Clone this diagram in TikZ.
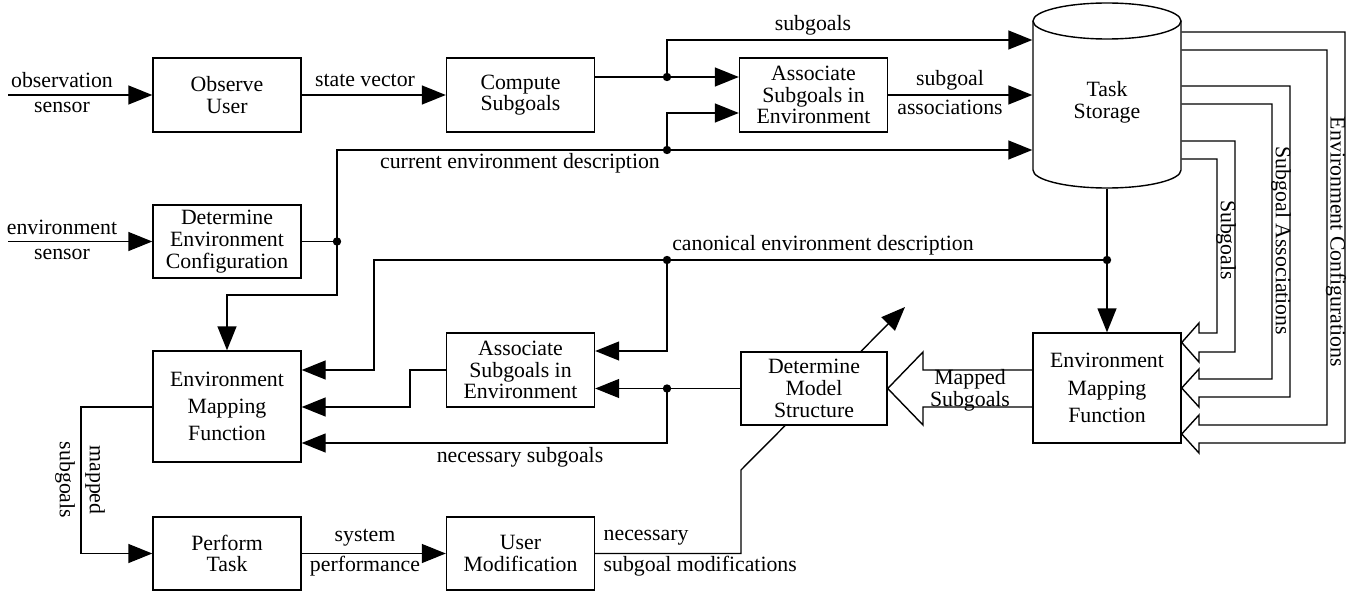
\documentclass[tikz,border=0pt]{standalone}
\usepackage{fontspec}
\setmainfont{Liberation Serif}
\usetikzlibrary{arrows.meta}
\begin{document}
\begin{tikzpicture}[x=1pt, y=-1pt, line width=1.4pt,
  font=\fontsize{21.8}{21.7}\selectfont,
  box/.style={draw, align=center, inner sep=0pt, minimum width=148pt, minimum height=74pt},
  tall/.style={box, minimum height=#1, font=\fontsize{21.8}{27.3}\selectfont},
  arr/.style={-{Triangle[length=24pt,width=19pt]}},
  lbl/.style={inner sep=0pt},
  vlbl/.style={inner sep=0pt, rotate=-90}]
\useasboundingbox (0,0) rectangle (1353,594);

% ---- processing blocks ----
\node[box] (obs) at (227,95) {Observe\\User};
\node[box] (comp) at (520.5,95) {Compute\\Subgoals};
\node[box] (assoc1) at (813.5,95) {Associate\\Subgoals in\\Environment};
\node[box, minimum height=73pt] (detenv) at (227,241.5) {Determine\\Environment\\Configuration};
\node[tall=111pt] (emf1) at (227,406.5) {Environment\\Mapping\\Function};
\node[box] (assoc2) at (520.5,370) {Associate\\Subgoals in\\Environment};
\node[box, minimum width=146pt, minimum height=73pt] (dms) at (814,388.5) {Determine\\Model\\Structure};
\node[tall=110pt] (emf2) at (1107,388) {Environment\\Mapping\\Function};
\node[box, minimum height=73pt] (perf) at (227,553.5) {Perform\\Task};
\node[box, minimum height=73pt] (umod) at (520.5,553.5) {User\\Modification};

% ---- task storage cylinder ----
\node[minimum width=148pt, minimum height=171pt, inner sep=0pt, align=center] (store) at (1107,102.5) {Task\\Storage};
\draw (1107,21) ellipse [x radius=74pt, y radius=18pt];
\draw (1033,21) -- (1033,170) arc [start angle=180, end angle=360, x radius=74pt, y radius=18pt] -- (1181,21);

% ---- junctions and free ends ----
\coordinate (obsIn) at (8,95);
\coordinate (envIn) at (8,241.5);
\coordinate (j1) at (667,77);
\coordinate (j2) at (337,241.5);
\coordinate (j3) at (667,150);
\coordinate (j4) at (1107,260);
\coordinate (j5) at (667,260);
\coordinate (j6) at (667,388.5);
\coordinate (dmsOut) at (905,307);

% ---- connectors ----
\draw[arr] (obsIn) -- (obs.west);
\draw[arr] (envIn) -- (detenv.west);
\draw[arr] (obs.east) -- (comp.west);
\draw (comp.east |- j1) -- (j1);
\draw[arr] (j1) -- (assoc1.west |- j1);
\draw[arr] (j1) |- (store.west |- 0,40);
\draw[arr] (assoc1.east) -- (store.west |- assoc1.east);
\draw (detenv.east) -- (j2);
\draw[arr] (j2) |- (store.west |- j3);
\draw[arr] (j3) |- (assoc1.west |- 0,113);
\draw[arr] (j2) -- (337,295) -| (emf1.north);
\draw[arr] (store.south) -- (emf2.north);
\draw[arr] (j4) -- (374,260) |- (emf1.east |- 0,370);
\draw[arr] (j5) |- (assoc2.east |- 0,351);
\draw (dms.west) -- (j6);
\draw[arr] (j6) -- (assoc2.east |- j6);
\draw[arr] (j6) |- (emf1.east |- 0,443);
\draw[arr] (assoc2.west) -- (410,370) |- (emf1.east |- 0,407);
\draw[arr] (emf1.west |- 0,407) -- (81,407) |- (perf.west);
\draw[arr] (perf.east) -- (umod.west);
\draw (umod.east) -- (741,553.5) -- (741,470) -- (dms.south -| 785,0);
\draw[arr] (dms.north -| 861,0) -- (dmsOut);

% hollow arrow: mapped subgoals
\draw (emf2.west |- 0,370) -- (923,370) -- (923,352) -- (dms.east) -- (923,425) -- (923,407) -- (emf2.west |- 0,407);

% hollow channels from the storage into the mapping function
\draw (store.east |- 0,141) -- (1235,141) -- (1235,352) -- (1199,352) -- (1199,362) -- (emf2.east |- 0,342.5)
      -- (1199,323) -- (1199,333) -- (1217,333) -- (1217,159) -- (store.east |- 0,159);
\draw (store.east |- 0,86) -- (1290,86) -- (1290,397) -- (1199,397) -- (1199,407) -- (emf2.east |- 0,388)
      -- (1199,369) -- (1199,379) -- (1272,379) -- (1272,104) -- (store.east |- 0,104);
\draw (store.east |- 0,32) -- (1345,32) -- (1345,443) -- (1199,443) -- (1199,453) -- (emf2.east |- 0,434)
      -- (1199,415) -- (1199,425) -- (1327,425) -- (1327,50) -- (store.east |- 0,50);

% junction dots
\foreach \j in {j1,j2,j3,j4,j5,j6} \fill (\j) circle (4.2pt);

% ---- labels ----
\node[lbl] (lObsA) at (62,80) {observation};
\node[lbl] (lObsB) at (62,107) {sensor};
\node[lbl] (lEnvA) at (62,227) {environment};
\node[lbl] (lEnvB) at (62,254) {sensor};
\node[lbl] (lState) at (365,80) {state vector};
\node[lbl] (lSub) at (813,25) {subgoals};
\node[lbl] (lAssA) at (950,80) {subgoal};
\node[lbl] (lAssB) at (950,107) {associations};
\node[lbl] (lCur) at (520,163) {current environment description};
\node[lbl] (lCan) at (823,245) {canonical environment description};
\node[lbl] (lNec) at (520,457) {necessary subgoals};
\node[lbl] (lSysA) at (365,538) {system};
\node[lbl] (lSysB) at (365,566) {performance};
\node[lbl, anchor=west] (lModA) at (603,538) {necessary};
\node[lbl, anchor=west] (lModB) at (603,566) {subgoal modifications};
\node[lbl] (lMapA) at (970,379) {Mapped};
\node[lbl] (lMapB) at (970,401) {Subgoals};
\node[vlbl] (lMsA) at (95,480) {mapped};
\node[vlbl] (lMsB) at (65,480) {subgoals};
\node[vlbl] (lChA) at (1226,240) {Subgoals};
\node[vlbl] (lChB) at (1281,241) {Subgoal Associations};
\node[vlbl] (lChC) at (1336,242) {Environment Configurations};
\end{tikzpicture}
\end{document}
